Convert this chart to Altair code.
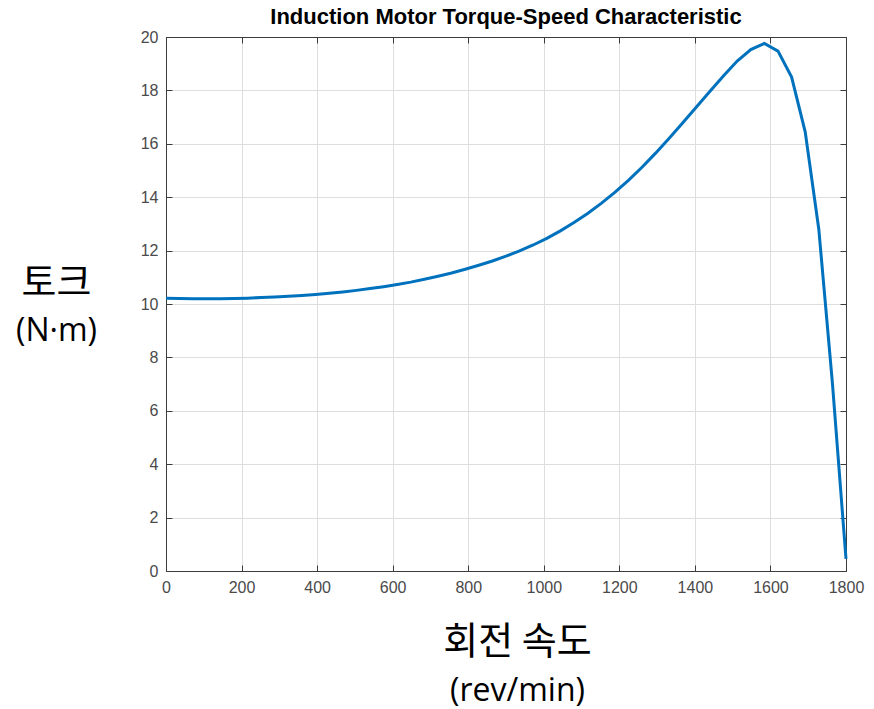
import altair as alt
import pandas as pd

speed = [0, 36, 72, 108, 144, 180, 216, 252, 288, 324, 360, 396, 432, 468, 504,
         540, 576, 612, 648, 684, 720, 756, 792, 828, 864, 900, 936, 972, 1008,
         1044, 1080, 1116, 1152, 1188, 1224, 1260, 1296, 1332, 1368, 1404, 1440,
         1476, 1512, 1548, 1584, 1620, 1656, 1692, 1728, 1764, 1800]
torque = [10.22, 10.21, 10.20, 10.20, 10.20, 10.21, 10.22, 10.24, 10.26, 10.29,
          10.32, 10.36, 10.40, 10.45, 10.51, 10.58, 10.65, 10.73, 10.82, 10.93,
          11.04, 11.16, 11.30, 11.45, 11.61, 11.79, 11.99, 12.21, 12.46, 12.74,
          13.05, 13.39, 13.77, 14.18, 14.63, 15.12, 15.65, 16.21, 16.79, 17.38,
          17.97, 18.55, 19.10, 19.53, 19.76, 19.47, 18.50, 16.45, 12.80, 7.05, 0.45]
x_ticks = [0, 200, 400, 600, 800, 1000, 1200, 1400, 1600, 1800]
y_ticks = [0, 2, 4, 6, 8, 10, 12, 14, 16, 18, 20]

df = pd.DataFrame({"speed": speed, "torque": torque})

FRAME = "#3c3c3c"
GRID = "#dedede"
xscale = alt.Scale(domain=[0, 1800], nice=False, zero=False)
yscale = alt.Scale(domain=[0, 20], nice=False, zero=False)
tick_in = alt.ExprRef(expr="-6")

base = alt.Chart(df)

main = base.mark_line(color="#0072BD", strokeWidth=3).encode(
    x=alt.X("speed:Q", scale=xscale, axis=alt.Axis(
        orient="bottom", values=x_ticks, format="d", grid=True, gridColor=GRID,
        domainColor=FRAME, tickColor=FRAME, tickSize=tick_in, labelPadding=14,
        labelFlush=False, labelOverlap=False,
        labelFont="Liberation Sans", labelFontSize=16, labelColor="#4a4a4a",
        title="회전 속도", titleFont="Noto Sans CJK KR", titleFontSize=38,
        titleFontWeight="normal", titleColor="#000000", titleX=351, titleY=71,
        titleBaseline="middle", titleAlign="center")),
    y=alt.Y("torque:Q", scale=yscale, axis=alt.Axis(
        orient="left", values=y_ticks, format="d", grid=True, gridColor=GRID,
        domainColor=FRAME, tickColor=FRAME, tickSize=tick_in, labelPadding=14,
        labelFlush=False, labelOverlap=False,
        labelFont="Liberation Sans", labelFontSize=16, labelColor="#4a4a4a",
        title="토크", titleFont="Noto Sans CJK KR", titleFontSize=38,
        titleFontWeight="normal", titleColor="#000000", titleAngle=0,
        titleX=-110, titleY=246, titleBaseline="middle", titleAlign="center")),
)

frame = base.mark_line(opacity=0).encode(
    x=alt.X("speed:Q", scale=xscale, axis=alt.Axis(
        orient="top", values=x_ticks, grid=False, labels=False, title="",
        domainColor=FRAME, tickColor=FRAME, tickSize=tick_in)),
    y=alt.Y("torque:Q", scale=yscale, axis=alt.Axis(
        orient="right", values=y_ticks, grid=False, labels=False, title="",
        domainColor=FRAME, tickColor=FRAME, tickSize=tick_in)),
)

units = base.mark_line(opacity=0).encode(
    x=alt.X("speed:Q", scale=xscale, axis=alt.Axis(
        orient="bottom", grid=False, labels=False, ticks=False, domain=False,
        title="(rev/min)", titleFont="Open Sans", titleFontSize=32,
        titleFontWeight="normal", titleColor="#000000", titleX=351, titleY=119,
        titleBaseline="middle", titleAlign="center")),
    y=alt.Y("torque:Q", scale=yscale, axis=alt.Axis(
        orient="left", grid=False, labels=False, ticks=False, domain=False,
        title="(N·m)", titleFont="Open Sans", titleFontSize=32,
        titleFontWeight="normal", titleColor="#000000", titleAngle=0,
        titleX=-110, titleY=293, titleBaseline="middle", titleAlign="center")),
)

chart = alt.layer(units, frame, main).resolve_axis(
    x="independent", y="independent"
).properties(
    width=680, height=534,
    padding={"left": 166, "top": 37, "right": 28, "bottom": 138},
    autosize=alt.AutoSizeParams(type="none"),
    title=alt.TitleParams(
        "Induction Motor Torque-Speed Characteristic", font="Liberation Sans",
        fontSize=22, fontWeight="bold", color="#000000", anchor="middle",
        offset=0),
    background="white",
).configure_view(strokeWidth=0)

chart.save("out.html", embed_options={"renderer": "svg", "actions": False})
